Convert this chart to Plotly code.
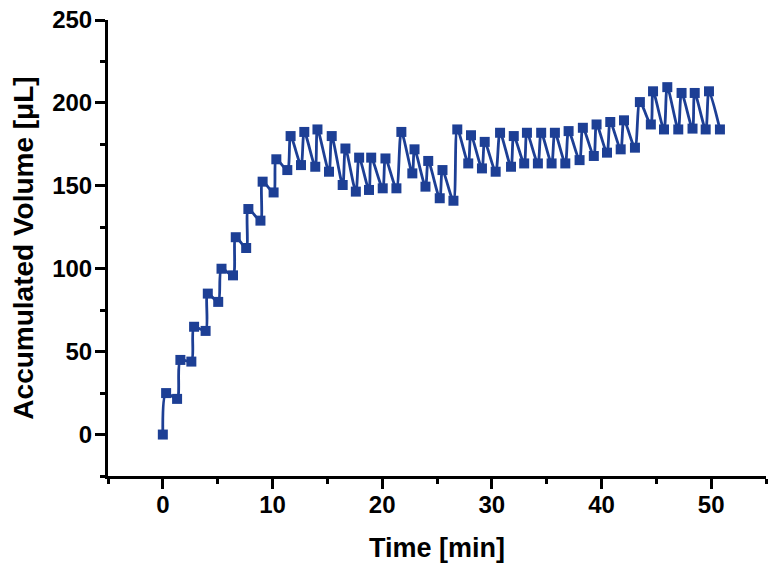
import plotly.graph_objects as go

time_min = [0.0, 0.3, 1.3, 1.6, 2.6, 2.85, 3.9, 4.1, 5.05, 5.35, 6.4, 6.65, 7.6, 7.8,
            8.9, 9.1, 10.1, 10.35, 11.35, 11.65, 12.6, 12.9, 13.9, 14.1, 15.15, 15.4,
            16.4, 16.65, 17.6, 17.9, 18.8, 19.0, 20.05, 20.3, 21.3, 21.75, 22.75, 22.95,
            23.95, 24.2, 25.25, 25.5, 26.5, 26.85, 27.85, 28.1, 29.1, 29.35, 30.35, 30.75,
            31.75, 32.0, 32.95, 33.2, 34.2, 34.5, 35.45, 35.75, 36.7, 37.0, 38.0, 38.3,
            39.3, 39.55, 40.5, 40.8, 41.75, 42.05, 43.05, 43.5, 44.5, 44.7, 45.7, 46.0,
            47.0, 47.3, 48.3, 48.5, 49.5, 49.8, 50.8]
volume_ul = [0, 25, 21.5, 45, 44, 65, 62.5, 85, 80, 100, 96, 119, 112.5, 136,
             129, 152.5, 146, 166, 159.5, 180, 162.5, 182.5, 161.5, 184, 158.5, 180,
             150.5, 172.5, 146.5, 167, 147.5, 167, 148.5, 166.5, 148.5, 182.5, 157.5, 172,
             149.5, 165, 142.5, 159.5, 141, 184, 163.5, 180.5, 160.5, 176.5, 158.5, 182,
             161.5, 180, 163.5, 182, 163.5, 182, 163.5, 182, 163.5, 183, 165.5, 185,
             168, 187, 170, 188.5, 172, 189.5, 173, 200.5, 187, 207, 184, 209.5,
             184, 206, 184.5, 206, 184, 207, 184]

x_ticks = [0, 10, 20, 30, 40, 50]
y_ticks = [0, 50, 100, 150, 200, 250]

color = "#1d3f95"
font_family = "Liberation Sans, Arial, sans-serif"

fig = go.Figure()
fig.add_trace(go.Scatter(
    x=time_min, y=volume_ul, mode="lines+markers",
    line=dict(color=color, width=2.8, shape="spline", smoothing=0.8),
    marker=dict(symbol="square", size=10, color=color),
    showlegend=False,
))

axis_common = dict(
    showline=True, linewidth=3, linecolor="black", mirror=False,
    showgrid=False, zeroline=False, automargin=False,
    ticks="outside", ticklen=10, tickwidth=2.5, tickcolor="black",
    ticklabeloverflow="allow",
    tickfont=dict(family=font_family, size=24, color="black", weight="bold"),
)

fig.update_layout(
    width=780, height=573,
    margin=dict(l=108, r=14, t=20, b=97),
    paper_bgcolor="white", plot_bgcolor="white",
    xaxis=dict(
        range=[-5, 55], tickvals=x_ticks, ticklabelstandoff=-5,
        minor=dict(ticks="outside", ticklen=5, tickwidth=2.5, tickcolor="black", dtick=5, tick0=-5),
        title=dict(text="Time [min]", standoff=22,
                   font=dict(family=font_family, size=27, color="black", weight="bold")),
        **axis_common,
    ),
    yaxis=dict(
        range=[-25, 250], tickvals=y_ticks, ticklabelstandoff=-2,
        minor=dict(ticks="outside", ticklen=5, tickwidth=2.5, tickcolor="black", dtick=25, tick0=0),
        title=dict(text="Accumulated Volume [μL]", standoff=11,
                   font=dict(family=font_family, size=28, color="black", weight="bold")),
        **axis_common,
    ),
)

fig.write_html("out.html", config={"displayModeBar": False},
               post_script="document.body.style.margin='0';document.body.style.overflow='hidden';")
